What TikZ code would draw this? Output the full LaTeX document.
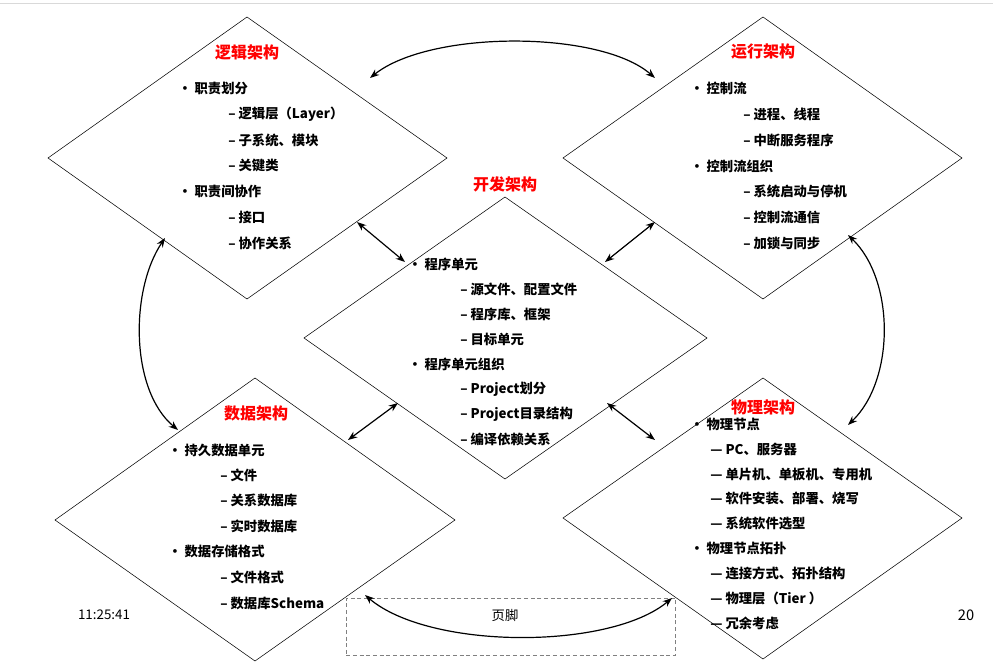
\documentclass[tikz,border=0pt]{standalone}
\usepackage{fontspec}
\setmainfont{Noto Sans CJK SC}
\usetikzlibrary{arrows.meta}
\begin{document}
\begin{tikzpicture}[x=0.75pt,y=-0.75pt,
  dia/.style={draw,thin},
  ttl/.style={text=red,font=\bfseries\fontsize{12}{14}\selectfont},
  ln/.style={anchor=west,font=\bfseries\fontsize{10}{12}\selectfont,inner sep=0pt},
  arr/.style={{Stealth[length=7pt]}-{Stealth[length=7pt]},line width=0.9pt}]
\useasboundingbox (0,0) rectangle (993,666);
\draw[gray!30] (0,3)--(993,3);
% diamonds
\draw[dia] (48,158)--(247,17)--(447,158)--(247,299)--cycle;
\draw[dia] (563,158)--(763,17)--(962,158)--(763,299)--cycle;
\draw[dia] (304,338)--(505,197)--(707,338)--(505,479)--cycle;
\draw[dia] (55,520)--(255,378)--(455,520)--(255,661)--cycle;
\draw[dia] (563,518)--(763,378)--(962,518)--(763,659)--cycle;
% titles
\node[ttl] (t1) at (247,52) {逻辑架构};
\node[ttl] (t2) at (763,52) {运行架构};
\node[ttl] (t3) at (505,184) {开发架构};
\node[ttl] (t4) at (256,413) {数据架构};
\node[ttl] (t5) at (763,407) {物理架构};
% text
\foreach \x/\y/\s [count=\i] in {
 178/88/{· 职责划分}, 228/114/{– 逻辑层（Layer）}, 228/140/{– 子系统、模块}, 228/166/{– 关键类},
 178/191/{· 职责间协作}, 228/217/{– 接口}, 228/243/{– 协作关系},
 690/88/{· 控制流}, 743/114/{– 进程、线程}, 743/140/{– 中断服务程序}, 690/166/{· 控制流组织},
 743/191/{– 系统启动与停机}, 743/217/{– 控制流通信}, 743/243/{– 加锁与同步},
 408/264/{· 程序单元}, 460/289/{– 源文件、配置文件}, 460/314/{– 程序库、框架}, 460/339/{– 目标单元},
 408/364/{· 程序单元组织}, 460/389/{– Project划分}, 460/414/{– Project目录结构}, 460/439/{– 编译依赖关系},
 168/450/{· 持久数据单元}, 220/475/{– 文件}, 220/500/{– 关系数据库}, 220/526/{– 实时数据库},
 168/551/{· 数据存储格式}, 220/577/{– 文件格式}, 220/603/{– 数据库Schema},
 690/424/{· 物理节点}, 710/449/{— PC、服务器}, 710/474/{— 单片机、单板机、专用机}, 710/498/{— 软件安装、部署、烧写},
 710/523/{— 系统软件选型}, 690/548/{· 物理节点拓扑}, 710/573/{— 连接方式、拓扑结构}, 710/598/{— 物理层（Tier ）}, 710/623/{— 冗余考虑}}
 \node[ln] (l\i) at (\x,\y) {\s};
% footer
\node[draw,densely dashed,gray,minimum width=329*0.75pt,minimum height=57*0.75pt,anchor=north west] (ft) at (346,598) {};
\node[font=\fontsize{10}{12}\selectfont] (ftt) at (505,615) {页脚};
\node[font=\rmfamily\fontsize{10}{12}\selectfont] (time) at (104,615) {11:25:41};
\node[font=\fontsize{11}{12}\selectfont] (pg) at (966,615) {20};
% arrows
\coordinate (a1) at (370,78); \coordinate (b1) at (655,78);
\draw[arr] (a1) .. controls (430,30) and (600,30) .. (b1);
\coordinate (a2) at (165,238); \coordinate (b2) at (178,430);
\draw[arr] (a2) .. controls (130,290) and (130,390) .. (b2);
\coordinate (a3) at (848,235); \coordinate (b3) at (848,425);
\draw[arr] (a3) .. controls (895,280) and (895,380) .. (b3);
\coordinate (a4) at (365,595); \coordinate (b4) at (672,598);
\draw[arr] (a4) .. controls (430,650) and (610,650) .. (b4);
\coordinate (c1) at (357,222); \coordinate (d1) at (405,262);
\draw[arr] (c1)--(d1);
\coordinate (c2) at (605,262); \coordinate (d2) at (655,222);
\draw[arr] (c2)--(d2);
\coordinate (c3) at (348,440); \coordinate (d3) at (398,403);
\draw[arr] (c3)--(d3);
\coordinate (c4) at (607,403); \coordinate (d4) at (655,440);
\draw[arr] (c4)--(d4);
\end{tikzpicture}
\end{document}
